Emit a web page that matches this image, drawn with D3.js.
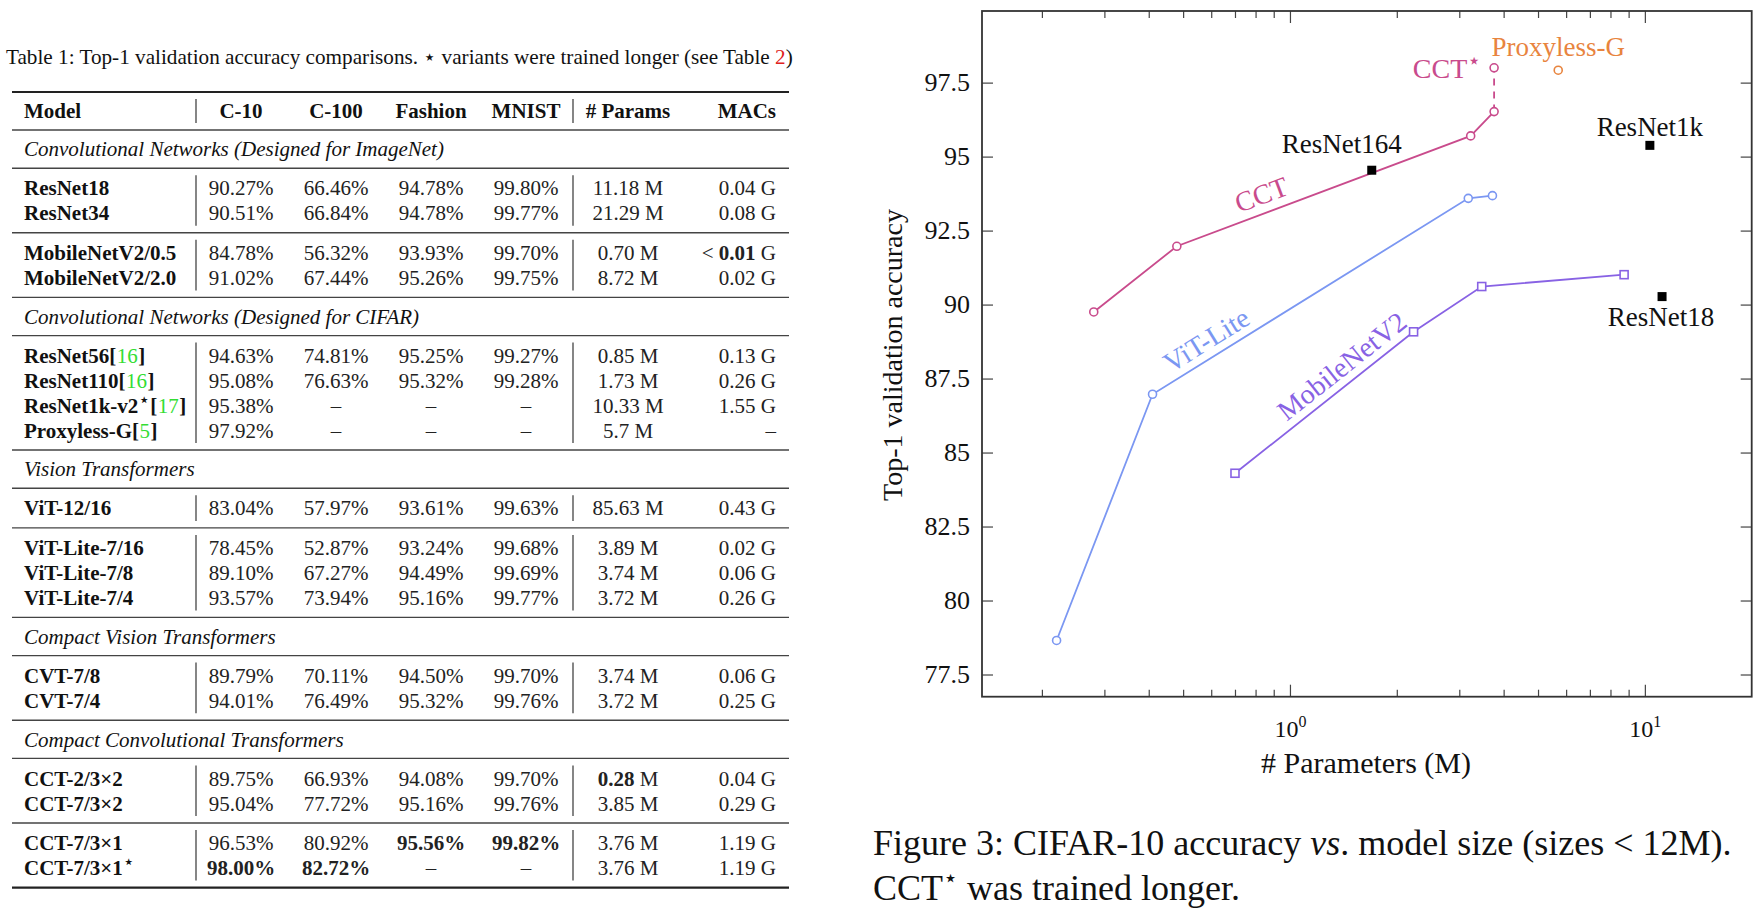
<!DOCTYPE html>
<html>
<head>
<meta charset="utf-8">
<script src="https://cdn.jsdelivr.net/npm/d3@7"></script>
<style>
  body { margin: 0; background: #fff; }
  svg text { font-family: "Liberation Serif", "Times New Roman", serif; fill: #111; }
  .tick line { stroke: #444; stroke-width: 1.2; }
</style>
</head>
<body>
<div id="page"></div>
<script>

// ---------- Table 1 data ----------
var tableCaption = "Table 1: Top-1 validation accuracy comparisons. ⋆ variants were trained longer (see Table ";
var tableRef = "2";
var headers = ["Model", "C-10", "C-100", "Fashion", "MNIST", "# Params", "MACs"];
var sections = ["Convolutional Networks (Designed for ImageNet)", "Convolutional Networks (Designed for CIFAR)",
                "Vision Transformers", "Compact Vision Transformers", "Compact Convolutional Transformers"];
// blocks of rows, each under a section (index into sections)
var blockSection = [0, 0, 1, 2, 2, 3, 4, 4];
var blockSize = [2, 2, 4, 1, 3, 2, 2, 2];

var models = ["ResNet18", "ResNet34", "MobileNetV2/0.5", "MobileNetV2/2.0",
              "ResNet56[16]", "ResNet110[16]", "ResNet1k-v2⋆[17]", "Proxyless-G[5]",
              "ViT-12/16", "ViT-Lite-7/16", "ViT-Lite-7/8", "ViT-Lite-7/4",
              "CVT-7/8", "CVT-7/4", "CCT-2/3×2", "CCT-7/3×2", "CCT-7/3×1", "CCT-7/3×1⋆"];
var c10 = [90.27, 90.51, 84.78, 91.02, 94.63, 95.08, 95.38, 97.92, 83.04, 78.45, 89.10, 93.57, 89.79, 94.01, 89.75, 95.04, 96.53, 98.00];
var c100 = [66.46, 66.84, 56.32, 67.44, 74.81, 76.63, null, null, 57.97, 52.87, 67.27, 73.94, 70.11, 76.49, 66.93, 77.72, 80.92, 82.72];
var fashion = [94.78, 94.78, 93.93, 95.26, 95.25, 95.32, null, null, 93.61, 93.24, 94.49, 95.16, 94.50, 95.32, 94.08, 95.16, 95.56, null];
var mnist = [99.80, 99.77, 99.70, 99.75, 99.27, 99.28, null, null, 99.63, 99.68, 99.69, 99.77, 99.70, 99.76, 99.70, 99.76, 99.82, null];
var params = ["11.18", "21.29", "0.70", "8.72", "0.85", "1.73", "10.33", "5.7", "85.63", "3.89", "3.74", "3.72", "3.74", "3.72", "0.28", "3.85", "3.76", "3.76"];
var macs = ["0.04", "0.08", "< 0.01", "0.02", "0.13", "0.26", "1.55", "–", "0.43", "0.02", "0.06", "0.26", "0.06", "0.25", "0.04", "0.29", "1.19", "1.19"];
var bestCells = [["MobileNetV2/0.5", "macs"], ["CCT-2/3×2", "params"], ["CCT-7/3×1", "fashion"],
                 ["CCT-7/3×1", "mnist"], ["CCT-7/3×1⋆", "c10"], ["CCT-7/3×1⋆", "c100"]];

// ---------- Figure 3 data ----------
var cctParams = [0.28, 0.48, 3.23, 3.76];
var cctAcc = [89.75, 91.97, 95.70, 96.52];
var cctStarParams = [3.76];
var cctStarAcc = [98.00];
var vitParams = [0.22, 0.41, 3.18, 3.72];
var vitAcc = [78.65, 86.97, 93.59, 93.68];
var mobileParams = [0.70, 2.23, 3.47, 8.74];
var mobileAcc = [84.30, 89.08, 90.61, 91.01];
var resnetNames = ["ResNet164", "ResNet1k", "ResNet18"];
var resnetParams = [1.70, 10.33, 11.18];
var resnetAcc = [94.54, 95.38, 90.27];
var proxylessParams = [5.7];
var proxylessAcc = [97.92];
var yTicks = [77.5, 80, 82.5, 85, 87.5, 90, 92.5, 95, 97.5];
var xMajorTicks = [1, 10];
var xMinorTicks = [0.2, 0.3, 0.4, 0.5, 0.6, 0.7, 0.8, 0.9, 2, 3, 4, 5, 6, 7, 8, 9];

// ---------- colours ----------
var cctColor = "#c94b8c";
var vitColor = "#7b97f2";
var mobileColor = "#8862e4";
var proxColor = "#e8843e";
var citeGreen = "#33dd33";

var W = 1759, H = 918;
var svg = d3.select("#page").append("svg").attr("width", W).attr("height", H);
svg.append("rect").attr("width", W).attr("height", H).attr("fill", "#fff");

// ================= TABLE =================
var T = { left: 12, right: 789, top: 92, headH: 38, secH: 38.2, rowH: 24.9, pad: 14.8, fs: 21 };
var colX = { model: 24, c10: 241, c100: 336, fashion: 431, mnist: 526, params: 628, macs: 776 };
var barX = [196, 573];

svg.append("clipPath").attr("id", "tclip").append("rect").attr("width", 793).attr("height", H);
var tg = svg.append("g").attr("clip-path", "url(#tclip)");

function isBest(name, col) {
  return bestCells.some(function(b) { return b[0] === name && b[1] === col; });
}
function acc(v) { return v == null ? "–" : v.toFixed(2) + "%"; }

function rule(yy, thick) {
  tg.append("line").attr("x1", T.left).attr("x2", T.right).attr("y1", yy).attr("y2", yy)
    .attr("stroke", thick ? "#222" : "#444").attr("stroke-width", thick ? 2.2 : 1.4);
}
function vbars(y0, y1) {
  barX.forEach(function(bx) {
    tg.append("line").attr("x1", bx).attr("x2", bx).attr("y1", y0 + 7).attr("y2", y1 - 7)
      .attr("stroke", "#444").attr("stroke-width", 1.3);
  });
}
function txt(xx, yy, anchor) {
  return tg.append("text").attr("x", xx).attr("y", yy).attr("dy", "0.35em")
    .attr("text-anchor", anchor || "middle").attr("font-size", T.fs);
}
// model name: bold text, optional superscript star, citation with green number
function addName(xx, cy, name) {
  var m = name.match(/^(.*?)(⋆)?(?:\[(\d+)\])?$/);
  var t = txt(xx, cy, "start").attr("font-weight", "bold");
  t.append("tspan").text(m[1]);
  if (m[2]) t.append("tspan").attr("dy", -7).attr("font-size", 19).attr("font-weight", "normal")
    .attr("font-family", "DejaVu Sans").text("⋆");
  if (m[3]) {
    var cx = xx + t.node().getComputedTextLength();
    var open = txt(cx, cy, "start").attr("font-weight", "bold").text("[");
    cx += open.node().getComputedTextLength() + 0.5;
    var num = txt(cx, cy, "start").style("fill", citeGreen).text(m[3]);
    cx += num.node().getComputedTextLength() + 0.5;
    txt(cx, cy, "start").attr("font-weight", "bold").text("]");
  }
}
function addQuantity(t, s, unit, bold) {
  var m = s.match(/^(<\s)?([\d.]+)$/);
  if (!m) { t.text(s); return; }
  if (m[1]) t.append("tspan").text("< ");
  t.append("tspan").attr("font-weight", bold ? "bold" : null).text(m[2]);
  t.append("tspan").text(" " + unit);
}

// caption
var cap = tg.append("text").attr("x", 6).attr("y", 57).attr("dy", "0.35em").attr("font-size", 21.2);
cap.append("tspan").text(tableCaption);
cap.append("tspan").style("fill", "#e02020").text(tableRef);
cap.append("tspan").text(")");

// header
var yy = T.top;
rule(yy, true);
var hc = yy + T.headH / 2;
var hx = [colX.model, colX.c10, colX.c100, colX.fashion, colX.mnist, colX.params, colX.macs];
headers.forEach(function(h, i) {
  txt(hx[i], hc, i === 0 ? "start" : (i === 6 ? "end" : "middle")).attr("font-weight", "bold").text(h);
});
vbars(yy, yy + T.headH);
yy += T.headH;
rule(yy);

var row = 0, lastSection = -1;
blockSize.forEach(function(n, b) {
  if (blockSection[b] !== lastSection) {
    lastSection = blockSection[b];
    txt(colX.model, yy + T.secH / 2, "start").attr("font-style", "italic").text(sections[lastSection]);
    yy += T.secH;
    rule(yy);
  }
  var top = yy;
  for (var i = 0; i < n; i++, row++) {
    var cy = top + T.pad / 2 + T.rowH / 2 + i * T.rowH;
    var name = models[row];
    addName(colX.model, cy, name);
    [["c10", c10], ["c100", c100], ["fashion", fashion], ["mnist", mnist]].forEach(function(c) {
      txt(colX[c[0]], cy).style("fill", "#222").attr("font-weight", isBest(name, c[0]) ? "bold" : null)
        .text(acc(c[1][row]));
    });
    addQuantity(txt(colX.params, cy).style("fill", "#222"), params[row], "M", isBest(name, "params"));
    addQuantity(txt(colX.macs, cy, "end").style("fill", "#222"), macs[row], "G", isBest(name, "macs"));
  }
  yy = top + n * T.rowH + T.pad;
  vbars(top, yy);
  rule(yy, b === blockSize.length - 1);
});

// ================= FIGURE =================
var F = { left: 982, right: 1751.7, top: 11, bottom: 696.7 };
var x = d3.scaleLog().domain([0.1356, 20]).range([F.left, F.right]);
var y = d3.scaleLinear().domain([76.75, 99.92]).range([F.bottom, F.top]);
var fg = svg.append("g");

function clean(g) { g.select(".domain").remove(); return g; }

// ticks on all four sides, pointing inward
fg.append("g").attr("transform", "translate(0," + F.bottom + ")")
  .call(d3.axisBottom(x).tickValues(xMinorTicks).tickSize(-7).tickFormat("")).call(clean);
var xb = fg.append("g").attr("transform", "translate(0," + F.bottom + ")")
  .call(d3.axisBottom(x).tickValues(xMajorTicks).tickSize(-12).tickFormat(function() { return ""; })).call(clean);
fg.append("g").attr("transform", "translate(0," + F.top + ")")
  .call(d3.axisTop(x).tickValues(xMinorTicks).tickSize(-7).tickFormat("")).call(clean);
fg.append("g").attr("transform", "translate(0," + F.top + ")")
  .call(d3.axisTop(x).tickValues(xMajorTicks).tickSize(-12).tickFormat("")).call(clean);
var yl = fg.append("g").attr("transform", "translate(" + F.left + ",0)")
  .call(d3.axisLeft(y).tickValues(yTicks).tickSize(-11).tickPadding(12)
    .tickFormat(function(d) { return d % 1 ? d.toFixed(1) : d; })).call(clean);
yl.selectAll("text").attr("font-size", 26).attr("font-family", null).attr("fill", "#111");
fg.append("g").attr("transform", "translate(" + F.right + ",0)")
  .call(d3.axisRight(y).tickValues(yTicks).tickSize(-11).tickFormat("")).call(clean);

// 10^k labels
xb.selectAll(".tick text").each(function(d) {
  var t = d3.select(this).attr("y", 40).attr("dy", null).attr("font-size", 24)
    .attr("font-family", null).attr("fill", "#111");
  t.append("tspan").text("10");
  t.append("tspan").attr("dy", -10).attr("font-size", 16).text(Math.round(Math.log10(d)));
});

fg.append("rect").attr("x", F.left).attr("y", F.top)
  .attr("width", F.right - F.left).attr("height", F.bottom - F.top)
  .attr("fill", "none").attr("stroke", "#333").attr("stroke-width", 1.8);

// axis titles
fg.append("text").attr("transform", "translate(892,355) rotate(-90)").attr("text-anchor", "middle")
  .attr("dy", "0.35em").attr("font-size", 28).text("Top-1 validation accuracy");
fg.append("text").attr("x", 1366).attr("y", 762).attr("dy", "0.35em").attr("text-anchor", "middle")
  .attr("font-size", 30).text("# Parameters (M)");

var line = d3.line().x(function(d) { return x(d[0]); }).y(function(d) { return y(d[1]); });

function series(px, py, color, marker) {
  var pts = d3.zip(px, py);
  fg.append("path").attr("d", line(pts)).attr("fill", "none").attr("stroke", color).attr("stroke-width", 1.8);
  drawMarkers(pts, color, marker);
  return pts;
}
function drawMarkers(pts, color, marker) {
  if (marker === "square") {
    fg.selectAll(null).data(pts).enter().append("rect")
      .attr("x", function(d) { return x(d[0]) - 4; }).attr("y", function(d) { return y(d[1]) - 4; })
      .attr("width", 8).attr("height", 8).attr("fill", "#fff").attr("stroke", color).attr("stroke-width", 1.6);
  } else {
    fg.selectAll(null).data(pts).enter().append("circle")
      .attr("cx", function(d) { return x(d[0]); }).attr("cy", function(d) { return y(d[1]); })
      .attr("r", 4).attr("fill", "#fff").attr("stroke", color).attr("stroke-width", 1.6);
  }
}
// sloped label above segment k at fraction f
function slopedLabel(pts, k, f, off, text, color) {
  var x0 = x(pts[k][0]), y0 = y(pts[k][1]), x1 = x(pts[k + 1][0]), y1 = y(pts[k + 1][1]);
  var a = Math.atan2(y1 - y0, x1 - x0);
  var cx = x0 + (x1 - x0) * f + Math.sin(a) * off, cy = y0 + (y1 - y0) * f - Math.cos(a) * off;
  fg.append("text").attr("transform", "translate(" + cx + "," + cy + ") rotate(" + (a * 180 / Math.PI) + ")")
    .attr("text-anchor", "middle").attr("dy", "0.35em").attr("font-size", 28).style("fill", color).text(text);
}

// CCT* dashed extension
var cctLast = [cctParams[cctParams.length - 1], cctAcc[cctAcc.length - 1]];
var starPts = d3.zip(cctStarParams, cctStarAcc);
fg.append("path").attr("d", line([cctLast, starPts[0]])).attr("fill", "none")
  .attr("stroke", cctColor).attr("stroke-width", 1.8).attr("stroke-dasharray", "7,6");

var vitPts = series(vitParams, vitAcc, vitColor, "circle");
var mobPts = series(mobileParams, mobileAcc, mobileColor, "square");
var cctPts = series(cctParams, cctAcc, cctColor, "circle");
drawMarkers(starPts, cctColor, "circle");

slopedLabel(cctPts, 1, 0.31, 19, "CCT", cctColor);
slopedLabel(vitPts, 1, 0.20, 18, "ViT-Lite", vitColor);
slopedLabel(mobPts, 0, 0.66, 18, "MobileNetV2", mobileColor);

fg.append("text").attr("x", x(starPts[0][0]) - 13).attr("y", y(starPts[0][1])).attr("dy", "0.35em")
  .attr("text-anchor", "end").attr("font-size", 28).style("fill", cctColor)
  .call(function(t) {
    t.append("tspan").text("CCT");
    t.append("tspan").attr("dy", -10).attr("font-size", 22).attr("font-family", "DejaVu Sans").text("⋆");
  });

// Proxyless-G
var proxPts = d3.zip(proxylessParams, proxylessAcc);
drawMarkers(proxPts, proxColor, "circle");
fg.append("text").attr("x", x(proxPts[0][0])).attr("y", y(proxPts[0][1]) - 24).attr("dy", "0.35em")
  .attr("text-anchor", "middle").attr("font-size", 27).style("fill", proxColor).text("Proxyless-G");

// ResNet reference points
var resLabelOff = [[-30, -27], [0, -19], [-1, 20]];
resnetNames.forEach(function(n, i) {
  var px = x(resnetParams[i]), py = y(resnetAcc[i]);
  fg.append("rect").attr("x", px - 4.5).attr("y", py - 4.5).attr("width", 9).attr("height", 9).attr("fill", "#000");
  fg.append("text").attr("x", px + resLabelOff[i][0]).attr("y", py + resLabelOff[i][1]).attr("dy", "0.35em")
    .attr("text-anchor", "middle").attr("font-size", 27).text(n);
});

// figure caption
var c1 = fg.append("text").attr("x", 873).attr("y", 842).attr("dy", "0.35em").attr("font-size", 36);
c1.append("tspan").text("Figure 3: CIFAR-10 accuracy ");
c1.append("tspan").attr("font-style", "italic").text("vs");
c1.append("tspan").text(". model size (sizes < 12M).");
var c2 = fg.append("text").attr("x", 873).attr("y", 887).attr("dy", "0.35em").attr("font-size", 36);
c2.append("tspan").text("CCT");
c2.append("tspan").attr("dy", -14).attr("font-size", 24).attr("font-family", "DejaVu Sans").text("⋆");
c2.append("tspan").attr("dy", 14).text(" was trained longer.");
</script>
</body>
</html>
